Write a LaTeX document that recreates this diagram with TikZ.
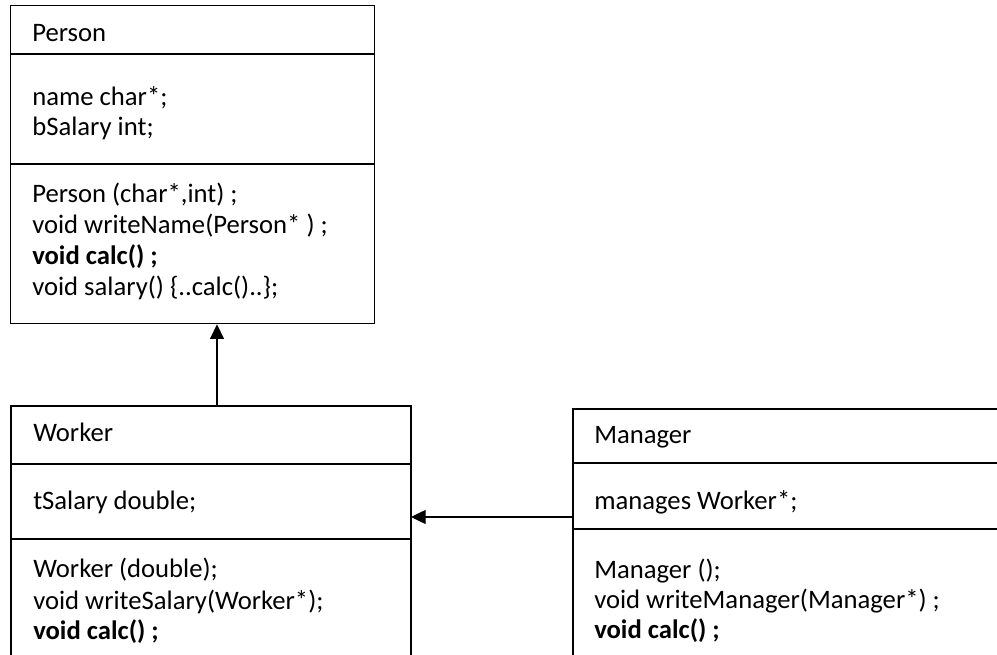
\documentclass[tikz,border=0pt]{standalone}
\usepackage{fontspec}
\setmainfont{Carlito}
\usetikzlibrary{arrows.meta}
\begin{document}
\begin{tikzpicture}[x=0.75pt,y=-0.75pt,
  box/.style={draw=black,line width=1pt},
  txt/.style={anchor=base west,inner sep=0pt,font=\fontsize{20}{24}\selectfont},
  btxt/.style={txt,font=\fontsize{20}{24}\selectfont\bfseries},
  conn/.style={line width=1pt,-{Triangle[length=11pt,width=10.5pt]}}]
\useasboundingbox (0,0) rectangle (997,655);
% Person
\node[box,draw,rectangle,minimum width=364*0.75pt,minimum height=318*0.75pt,anchor=north west,inner sep=0pt] (person) at (10,5) {};
\draw[line width=1pt] (10,54) -- (374,54);
\draw[line width=1pt] (10,164) -- (374,164);
\node[txt] (p1) at (32,42) {Person};
\node[txt] (p2) at (32,106) {name char*;};
\node[txt] (p3) at (32,136) {bSalary int;};
\node[txt] (p4) at (32,203) {Person (char*,int) ;};
\node[txt] (p5) at (32,234) {void writeName(Person* ) ;};
\node[btxt] (p6) at (32,265) {void calc() ;};
\node[txt] (p7) at (32,296) {void salary() \{..calc()..\};};
% Worker
\coordinate (wtl) at (11,406);
\coordinate (wtr) at (411,406);
\draw[line width=1pt] (11,655) -- (wtl) -- (wtr) -- (411,655);
\draw[line width=1pt] (11,464) -- (411,464);
\draw[line width=1pt] (11,539) -- (411,539);
\node[txt] (w1) at (33,442) {Worker};
\node[txt] (w2) at (33,510) {tSalary double;};
\node[txt] (w3) at (33,578) {Worker (double);};
\node[txt] (w4) at (33,610) {void writeSalary(Worker*);};
\node[btxt] (w5) at (33,640) {void calc() ;};
% Manager
\coordinate (mtl) at (573,409);
\draw[line width=1pt] (573,655) -- (mtl) -- (997,409);
\draw[line width=1pt] (573,463) -- (997,463);
\draw[line width=1pt] (573,529) -- (997,529);
\node[txt] (m1) at (594,444) {Manager};
\node[txt] (m2) at (594,510) {manages Worker*;};
\node[txt] (m3) at (594,579) {Manager ();};
\node[txt] (m4) at (594,609) {void writeManager(Manager*) ;};
\node[btxt] (m5) at (594,639) {void calc() ;};
% connectors
\coordinate (wup) at (217,406);
\draw[conn] (wup) -- (wup |- person.south);
\coordinate (mleft) at (573,517);
\coordinate (wright) at (411,517);
\draw[conn] (mleft) -- (wright);
\end{tikzpicture}
\end{document}
